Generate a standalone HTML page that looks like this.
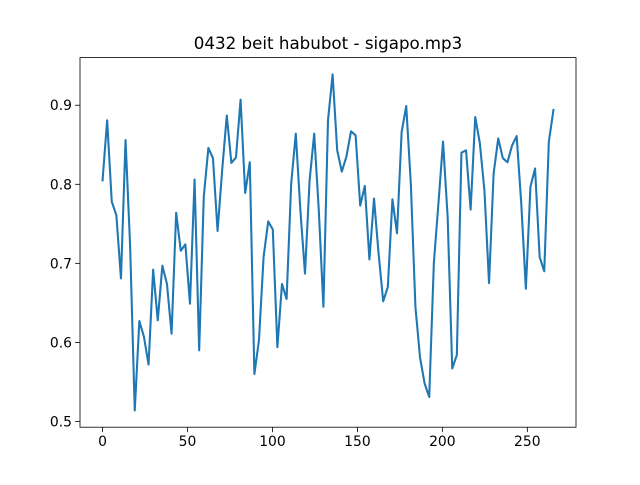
<!DOCTYPE html>
<html><head><meta charset="utf-8"><style>
body{margin:0;background:#fff}
svg text{font-family:"DejaVu Sans","Liberation Sans",sans-serif;fill:#000}
</style></head><body>
<svg id="chart" width="640" height="480" viewBox="0 0 640 480" xmlns="http://www.w3.org/2000/svg">
<rect x="0" y="0" width="640" height="480" fill="#fff"/>
<text x="328" y="49" font-size="16.7" text-anchor="middle">0432 beit habubot - sigapo.mp3</text>
<g id="plot"></g>
</svg>
<script>
const xStep = 2.708;
const yValues = [0.805,0.881,0.778,0.761,0.681,0.856,0.721,0.514,0.627,0.607,0.572,0.692,0.628,0.697,0.674,0.611,0.764,0.716,0.724,0.649,0.806,0.590,0.784,0.846,0.833,0.741,0.818,0.887,0.827,0.834,0.907,0.789,0.828,0.560,0.603,0.708,0.753,0.743,0.594,0.674,0.655,0.801,0.864,0.767,0.687,0.805,0.864,0.767,0.645,0.881,0.939,0.843,0.816,0.835,0.867,0.862,0.773,0.798,0.705,0.782,0.712,0.652,0.670,0.781,0.738,0.866,0.899,0.801,0.645,0.581,0.548,0.531,0.700,0.776,0.854,0.759,0.567,0.584,0.840,0.843,0.768,0.885,0.852,0.792,0.675,0.814,0.858,0.833,0.828,0.849,0.861,0.776,0.668,0.797,0.820,0.708,0.690,0.854,0.894];
const xTicks = [0,50,100,150,200,250];
const yTicks = [0.5,0.6,0.7,0.8,0.9];
const yTickLabels = ["0.5","0.6","0.7","0.8","0.9"];

const L=80,R=576,T=57.6,B=427.2;
const xs = yValues.map((v,i)=>i*xStep);
const xmin0=Math.min(...xs),xmax0=Math.max(...xs);
const xpad=(xmax0-xmin0)*0.05, xmin=xmin0-xpad, xmax=xmax0+xpad;
const ymin0=Math.min(...yValues),ymax0=Math.max(...yValues);
const ypad=(ymax0-ymin0)*0.05, ymin=ymin0-ypad, ymax=ymax0+ypad;
const sx=v=>L+(v-xmin)/(xmax-xmin)*(R-L);
const sy=v=>B-(v-ymin)/(ymax-ymin)*(B-T);
const NS="http://www.w3.org/2000/svg";
const g=document.getElementById('plot');
function mk(tag,attrs){const e=document.createElementNS(NS,tag);for(const k in attrs)e.setAttribute(k,attrs[k]);g.appendChild(e);return e;}

const line=mk('polyline',{points:yValues.map((v,i)=>sx(xs[i]).toFixed(2)+','+sy(v).toFixed(2)).join(' '),fill:'none',stroke:'#1f77b4','stroke-width':2.08,'stroke-linejoin':'round','stroke-linecap':'square'});



const frame=mk('rect',{x:L,y:T,width:R-L,height:B-T,fill:'none',stroke:'#000','stroke-width':0.8});



xTicks.forEach(t=>{
  const x=sx(t);
  const tk=mk('line',{x1:x,x2:x,y1:B,y2:B+4.9,stroke:'#000','stroke-width':0.8});
  
  
  const tx=mk('text',{x:x,y:B+19,'font-size':13.9,'text-anchor':'middle'});
  tx.textContent=String(t);
  
  
});
yTicks.forEach((t,i)=>{
  const y=sy(t);
  const tk=mk('line',{x1:L-4.9,x2:L,y1:y,y2:y,stroke:'#000','stroke-width':0.8});
  
  
  const tx=mk('text',{x:L-8,y:y+5,'font-size':13.9,'text-anchor':'end'});
  tx.textContent=yTickLabels[i];
  
  
});
</script>
</body></html>
